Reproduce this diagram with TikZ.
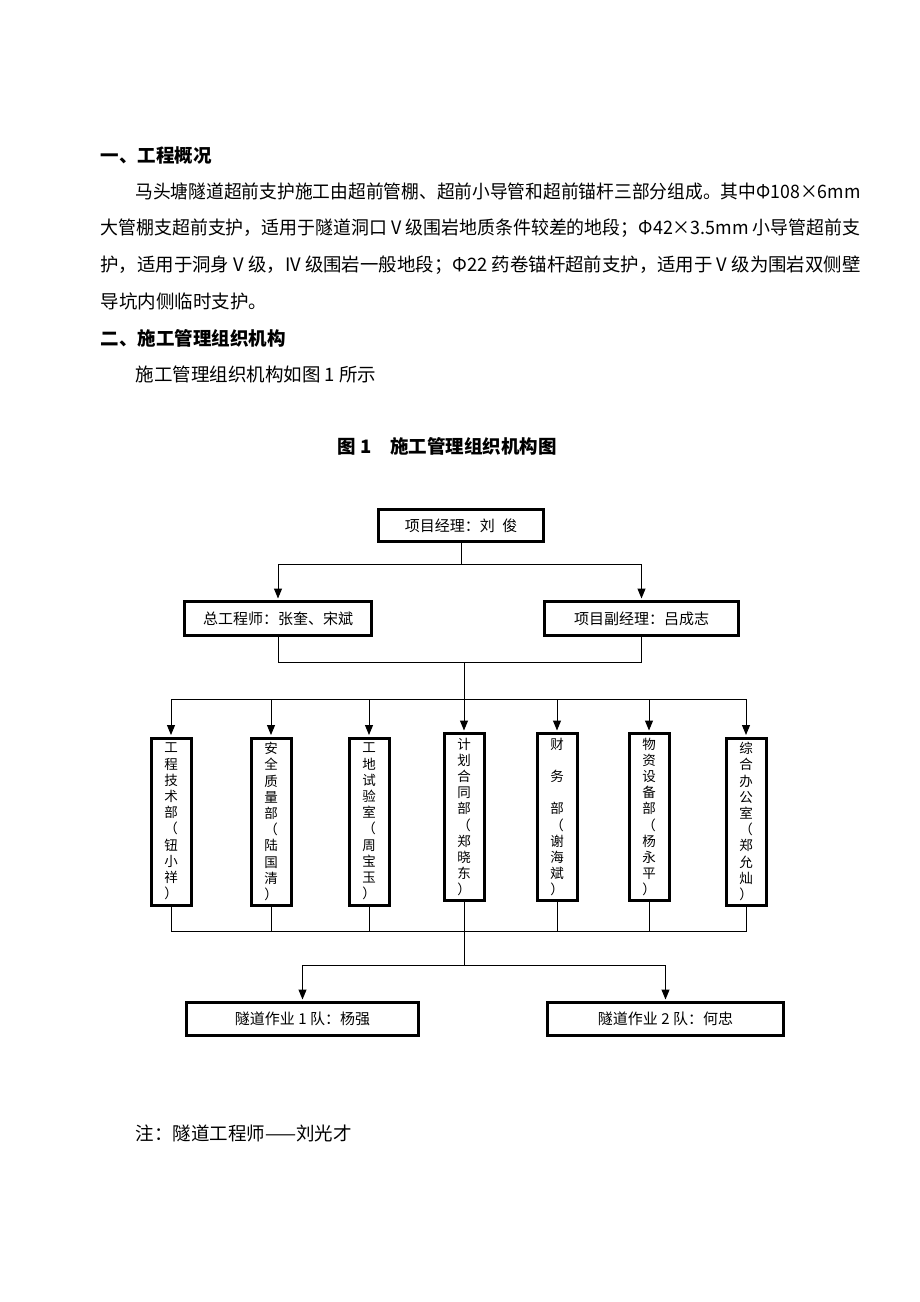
\documentclass[tikz,border=0pt]{standalone}
\usepackage{fontspec}
\setmainfont{Noto Sans CJK SC}
\usepackage{graphicx}
\usetikzlibrary{calc,positioning,arrows.meta}

\begin{document}
\begin{tikzpicture}[x=1pt,y=-1pt,line width=1pt,
		every node/.style={inner sep=0pt,font=\fontsize{18.5}{22}\selectfont},
		hbox/.style={draw,line width=3pt,font=\fontsize{15}{18}\selectfont},
		vbox/.style={draw,line width=3pt,minimum width=40pt,minimum height=167pt,
			align=center,font=\fontsize{13.5}{16.2}\selectfont},
		arr/.style={-{Triangle[length=10pt,width=8pt]},shorten >=1.5pt}]
		\fill[white] (0,0) rectangle (920,1302);
		\useasboundingbox (0,0) rectangle (920,1302);

		% text above the chart
		\node[anchor=west,font=\fontsize{18.5}{22}\selectfont\bfseries] (h1) at (100,156) {一、工程概况};
		\node[anchor=west] (p1) at (135,191) {\resizebox{725pt}{\height}{马头塘隧道超前支护施工由超前管棚、超前小导管和超前锚杆三部分组成。其中Φ108×6mm}};
		\node[anchor=west] (p2) at (100,228) {\resizebox{760pt}{\height}{大管棚支超前支护，适用于隧道洞口 V 级围岩地质条件较差的地段；Φ42×3.5mm 小导管超前支}};
		\node[anchor=west] (p3) at (100,265) {\resizebox{760pt}{\height}{护，适用于洞身 V 级，IV 级围岩一般地段；Φ22 药卷锚杆超前支护，适用于 V 级为围岩双侧壁}};
		\node[anchor=west] (p4) at (100,301) {导坑内侧临时支护。};
		\node[anchor=west,font=\fontsize{18.5}{22}\selectfont\bfseries] (h2) at (100,338) {二、施工管理组织机构};
		\node[anchor=west] (p5) at (135,374) {施工管理组织机构如图 1 所示};
		\node[font=\fontsize{18.5}{22}\selectfont\bfseries] (title) at (447,446) {图 1\quad 施工管理组织机构图};

		% chart
		\node[hbox,minimum width=165pt,minimum height=32pt] (pm) at (461,525.5) {项目经理：刘\hspace{0.5em}俊};
		\node[hbox,minimum width=187pt,minimum height=34pt] (ce) at (278,618.5) {总工程师：张奎、宋斌};
		\node[hbox,minimum width=194pt,minimum height=34pt] (dpm) at (641.5,618.5) {项目副经理：吕成志};

		\foreach \i/\xx/\yy/\txt in {
			1/171/821.5/{工\\程\\技\\术\\部\\（\\钮\\小\\祥\\）},
			2/271/821.5/{安\\全\\质\\量\\部\\（\\陆\\国\\清\\）},
			3/369/821.5/{工\\地\\试\\验\\室\\（\\周\\宝\\玉\\）},
			4/464/817/{计\\划\\合\\同\\部\\（\\郑\\晓\\东\\）},
			5/557/817/{财\\\mbox{}\\务\\\mbox{}\\部\\（\\谢\\海\\斌\\）},
			6/649/817/{物\\资\\设\\备\\部\\（\\杨\\永\\平\\）},
			7/746/821.5/{综\\合\\办\\公\\室\\（\\郑\\允\\灿\\）}}
		\node[vbox] (d\i) at (\xx,\yy) {\txt};

		\node[hbox,minimum width=232pt,minimum height=33pt] (t1) at (302.5,1019) {隧道作业 1 队：杨强};
		\node[hbox,minimum width=236pt,minimum height=33pt] (t2) at (665.5,1019) {隧道作业 2 队：何忠};

		\coordinate (s1) at (461,564);
		\draw (pm) -- (s1);
		\draw[arr] (s1) -| (ce);
		\draw[arr] (s1) -| (dpm);

		\coordinate (j1) at (464,662);
		\draw (ce) |- (j1) -| (dpm);
		\coordinate (s2) at (464,699);
		\draw (j1) -- (s2);
		\foreach \i in {1,...,7}
			\draw[arr] (s2) -| (d\i);

		\coordinate (j2) at (464,931);
		\foreach \i in {1,2,3,5,6,7}
			\draw (d\i) |- (j2);
		\coordinate (s3) at (464,965);
		\draw (d4) -- (s3);
		\draw[arr] (s3) -| (t1);
		\draw[arr] (s3) -| (t2);

		\node[anchor=west] (note) at (135,1133) {注：隧道工程师——刘光才};
	\end{tikzpicture}
\end{document}
